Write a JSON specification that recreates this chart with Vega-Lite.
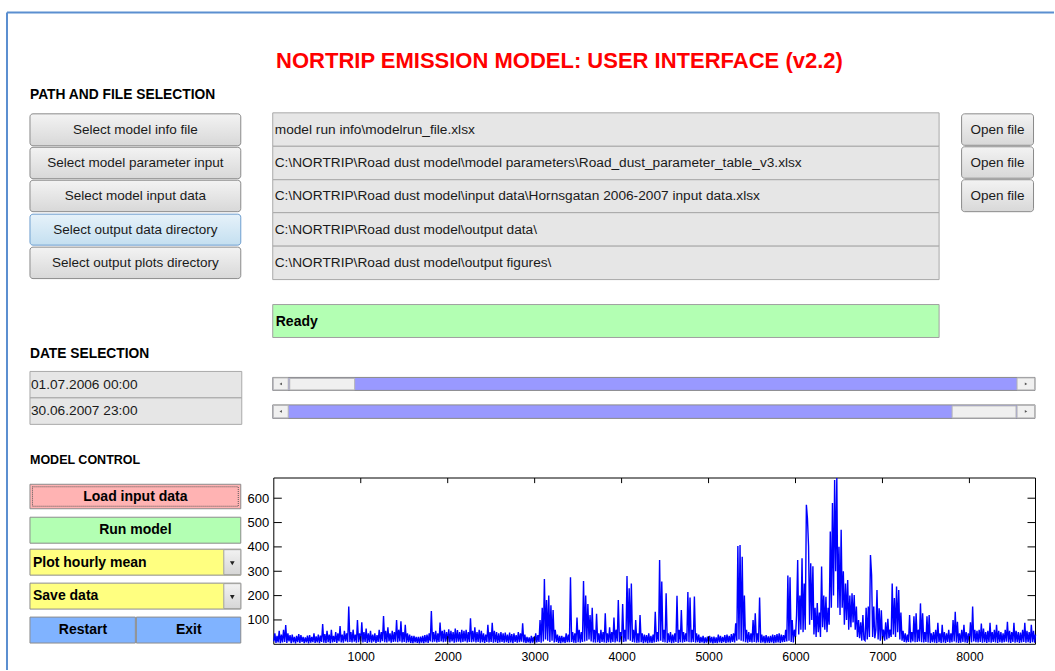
{
"$schema":"https://vega.github.io/schema/vega-lite/v6.json",
"width":1055,"height":671,"padding":0,
"autosize":{"type":"fit","contains":"padding"},
"background":"white",
"config":{"view":{"stroke":null},"text":{"font":"Liberation Sans"}},
"datasets":{
"rects":[
{"kind":"btn","x1":30,"x2":241,"y1":114,"y2":146},
{"kind":"btn","x1":30,"x2":241,"y1":147.5,"y2":179},
{"kind":"btn","x1":30,"x2":241,"y1":180.5,"y2":212},
{"kind":"btnblue","x1":30,"x2":241,"y1":214.5,"y2":245.5},
{"kind":"btn","x1":30,"x2":241,"y1":247.5,"y2":279},
{"kind":"btn","x1":962.5,"x2":1034.5,"y1":114,"y2":145.5},
{"kind":"btn","x1":962.5,"x2":1034.5,"y1":147,"y2":178.5},
{"kind":"btn","x1":962.5,"x2":1034.5,"y1":180,"y2":212},
{"kind":"field","x1":273,"x2":940,"y1":113,"y2":146.5},
{"kind":"field","x1":273,"x2":940,"y1":146.5,"y2":180},
{"kind":"field","x1":273,"x2":940,"y1":180,"y2":213},
{"kind":"field","x1":273,"x2":940,"y1":213,"y2":246.5},
{"kind":"field","x1":273,"x2":940,"y1":246.5,"y2":280},
{"kind":"ready","x1":273,"x2":940,"y1":305,"y2":338},
{"kind":"field","x1":30,"x2":242,"y1":372,"y2":398.5},
{"kind":"field","x1":30,"x2":242,"y1":398.5,"y2":425},
{"kind":"trough","x1":273,"x2":1036,"y1":378,"y2":391},
{"kind":"trough","x1":273,"x2":1036,"y1":405.5,"y2":419},
{"kind":"sbtn","x1":273.5,"x2":288.5,"y1":378.5,"y2":390.5},
{"kind":"sbtn","x1":290,"x2":355,"y1":379,"y2":390.5},
{"kind":"sbtn","x1":1018,"x2":1035.5,"y1":378.5,"y2":390.5},
{"kind":"sbtn","x1":273.5,"x2":288.5,"y1":406,"y2":418.5},
{"kind":"sbtn","x1":953,"x2":1017,"y1":406.5,"y2":418.5},
{"kind":"sbtn","x1":1018,"x2":1035.5,"y1":406,"y2":418.5},
{"kind":"load","x1":30,"x2":241,"y1":485,"y2":509.5},
{"kind":"run","x1":30,"x2":241,"y1":518,"y2":544},
{"kind":"select","x1":30,"x2":241,"y1":550,"y2":576},
{"kind":"select","x1":30,"x2":241,"y1":584,"y2":610},
{"kind":"blue","x1":30,"x2":135.5,"y1":618,"y2":644},
{"kind":"blue","x1":136.5,"x2":241,"y1":618,"y2":644},
{"kind":"selarrow","x1":224,"x2":241,"y1":550.5,"y2":575.5},
{"kind":"selarrow","x1":224,"x2":241,"y1":584.5,"y2":609.5},
{"kind":"focus","x1":32.5,"x2":238.5,"y1":487.5,"y2":507}
],
"border":[
{"x1":7,"x2":1055,"y1":12.5,"y2":12.5},
{"x1":7,"x2":7,"y1":12.5,"y2":671}
],
"glyphs":[
{"kind":"down","x":232.5,"y":564},
{"kind":"down","x":232.5,"y":598},
{"kind":"left","x":281,"y":384.5},
{"kind":"left","x":281,"y":412},
{"kind":"right","x":1027,"y":384.5},
{"kind":"right","x":1027,"y":412}
],
"texts":[
{"kind":"title","label":"NORTRIP EMISSION MODEL: USER INTERFACE (v2.2)","x":560,"y":61},
{"kind":"head","label":"PATH AND FILE SELECTION","x":30,"y":95.5},
{"kind":"head","label":"DATE SELECTION","x":30,"y":354.5},
{"kind":"head2","label":"MODEL CONTROL","x":30,"y":461},
{"kind":"btn","label":"Select model info file","x":135.5,"y":130},
{"kind":"btn","label":"Select model parameter input","x":135.5,"y":163},
{"kind":"btn","label":"Select model input data","x":135.5,"y":196.5},
{"kind":"btn","label":"Select output data directory","x":135.5,"y":230},
{"kind":"btn","label":"Select output plots directory","x":135.5,"y":263.5},
{"kind":"btn","label":"Open file","x":998.5,"y":130},
{"kind":"btn","label":"Open file","x":998.5,"y":163},
{"kind":"btn","label":"Open file","x":998.5,"y":196.5},
{"kind":"field","label":"model run info\\modelrun_file.xlsx","x":275,"y":130},
{"kind":"field","label":"C:\\NORTRIP\\Road dust model\\model parameters\\Road_dust_parameter_table_v3.xlsx","x":275,"y":163},
{"kind":"field","label":"C:\\NORTRIP\\Road dust model\\input data\\Hornsgatan 2006-2007 input data.xlsx","x":275,"y":196.5},
{"kind":"field","label":"C:\\NORTRIP\\Road dust model\\output data\\","x":275,"y":230},
{"kind":"field","label":"C:\\NORTRIP\\Road dust model\\output figures\\","x":275,"y":263.5},
{"kind":"field","label":"01.07.2006 00:00","x":31,"y":385.5},
{"kind":"field","label":"30.06.2007 23:00","x":31,"y":412},
{"kind":"ready","label":"Ready","x":276,"y":322},
{"kind":"ctl","label":"Load input data","x":135.5,"y":497.5},
{"kind":"ctl","label":"Run model","x":135.5,"y":531},
{"kind":"ctl","label":"Restart","x":83,"y":631},
{"kind":"ctl","label":"Exit","x":189,"y":631},
{"kind":"sel","label":"Plot hourly mean","x":33,"y":563.5},
{"kind":"sel","label":"Save data","x":33,"y":597}
],
"frame":[{"x0":0,"x1":8760,"y0":0,"y1":683}],
"xticks":[{"t":1000},{"t":2000},{"t":3000},{"t":4000},{"t":5000},{"t":6000},{"t":7000},{"t":8000}],
"yticks":[{"t":100},{"t":200},{"t":300},{"t":400},{"t":500},{"t":600}],
"series":[
{"h":0,"v":12},{"h":12,"v":45},{"h":25,"v":6},{"h":37,"v":35},{"h":50,"v":8},{"h":62,"v":55},{"h":75,"v":5},{"h":87,"v":40},
{"h":100,"v":8},{"h":112,"v":60},{"h":125,"v":10},{"h":137,"v":79},{"h":150,"v":6},{"h":162,"v":45},{"h":175,"v":12},{"h":187,"v":38},
{"h":200,"v":5},{"h":212,"v":40},{"h":225,"v":8},{"h":237,"v":30},{"h":250,"v":4},{"h":262,"v":35},{"h":275,"v":9},{"h":287,"v":42},
{"h":300,"v":6},{"h":312,"v":38},{"h":325,"v":10},{"h":337,"v":30},{"h":350,"v":5},{"h":362,"v":28},{"h":375,"v":8},{"h":387,"v":36},
{"h":400,"v":4},{"h":412,"v":38},{"h":425,"v":7},{"h":437,"v":30},{"h":450,"v":9},{"h":462,"v":45},{"h":475,"v":6},{"h":487,"v":33},
{"h":500,"v":8},{"h":512,"v":40},{"h":525,"v":5},{"h":537,"v":36},{"h":550,"v":10},{"h":562,"v":83},{"h":575,"v":7},{"h":587,"v":42},
{"h":600,"v":6},{"h":612,"v":55},{"h":625,"v":9},{"h":637,"v":40},{"h":650,"v":5},{"h":662,"v":60},{"h":675,"v":8},{"h":687,"v":35},
{"h":700,"v":10},{"h":712,"v":50},{"h":725,"v":6},{"h":737,"v":45},{"h":750,"v":12},{"h":762,"v":75},{"h":775,"v":8},{"h":787,"v":40},
{"h":800,"v":7},{"h":812,"v":55},{"h":825,"v":12},{"h":837,"v":45},{"h":850,"v":9},{"h":862,"v":155},{"h":875,"v":10},{"h":887,"v":50},
{"h":900,"v":8},{"h":912,"v":60},{"h":925,"v":11},{"h":937,"v":40},{"h":950,"v":7},{"h":962,"v":100},{"h":975,"v":9},{"h":987,"v":45},
{"h":1000,"v":12},{"h":1012,"v":90},{"h":1025,"v":8},{"h":1037,"v":50},{"h":1050,"v":10},{"h":1062,"v":65},{"h":1075,"v":6},{"h":1087,"v":45},
{"h":1100,"v":9},{"h":1112,"v":55},{"h":1125,"v":7},{"h":1137,"v":40},{"h":1150,"v":11},{"h":1162,"v":45},{"h":1175,"v":6},{"h":1187,"v":38},
{"h":1200,"v":10},{"h":1212,"v":60},{"h":1225,"v":8},{"h":1237,"v":50},{"h":1250,"v":13},{"h":1262,"v":116},{"h":1275,"v":9},{"h":1287,"v":55},
{"h":1300,"v":8},{"h":1312,"v":70},{"h":1325,"v":12},{"h":1337,"v":45},{"h":1350,"v":7},{"h":1362,"v":55},{"h":1375,"v":10},{"h":1387,"v":50},
{"h":1400,"v":11},{"h":1412,"v":100},{"h":1425,"v":9},{"h":1437,"v":60},{"h":1450,"v":12},{"h":1462,"v":95},{"h":1475,"v":8},{"h":1487,"v":50},
{"h":1500,"v":10},{"h":1512,"v":80},{"h":1525,"v":7},{"h":1537,"v":45},{"h":1550,"v":9},{"h":1562,"v":40},{"h":1575,"v":6},{"h":1587,"v":35},
{"h":1600,"v":5},{"h":1612,"v":35},{"h":1625,"v":8},{"h":1637,"v":30},{"h":1650,"v":6},{"h":1662,"v":30},{"h":1675,"v":4},{"h":1687,"v":32},
{"h":1700,"v":7},{"h":1712,"v":35},{"h":1725,"v":5},{"h":1737,"v":38},{"h":1750,"v":8},{"h":1762,"v":40},{"h":1775,"v":6},{"h":1787,"v":45},
{"h":1800,"v":12},{"h":1812,"v":137},{"h":1825,"v":9},{"h":1837,"v":50},{"h":1850,"v":11},{"h":1862,"v":55},{"h":1875,"v":8},{"h":1887,"v":45},
{"h":1900,"v":10},{"h":1912,"v":89},{"h":1925,"v":12},{"h":1937,"v":55},{"h":1950,"v":9},{"h":1962,"v":60},{"h":1975,"v":11},{"h":1987,"v":50},
{"h":2000,"v":10},{"h":2012,"v":62},{"h":2025,"v":8},{"h":2037,"v":55},{"h":2050,"v":12},{"h":2062,"v":50},{"h":2075,"v":7},{"h":2087,"v":65},
{"h":2100,"v":9},{"h":2112,"v":58},{"h":2125,"v":11},{"h":2137,"v":50},{"h":2150,"v":8},{"h":2162,"v":60},{"h":2175,"v":10},{"h":2187,"v":55},
{"h":2200,"v":12},{"h":2212,"v":60},{"h":2225,"v":8},{"h":2237,"v":50},{"h":2250,"v":10},{"h":2262,"v":107},{"h":2275,"v":9},{"h":2287,"v":55},
{"h":2300,"v":11},{"h":2312,"v":70},{"h":2325,"v":8},{"h":2337,"v":50},{"h":2350,"v":10},{"h":2362,"v":60},{"h":2375,"v":7},{"h":2387,"v":55},
{"h":2400,"v":9},{"h":2412,"v":45},{"h":2425,"v":6},{"h":2437,"v":40},{"h":2450,"v":10},{"h":2462,"v":80},{"h":2475,"v":8},{"h":2487,"v":50},
{"h":2500,"v":10},{"h":2512,"v":88},{"h":2525,"v":7},{"h":2537,"v":55},{"h":2550,"v":9},{"h":2562,"v":50},{"h":2575,"v":6},{"h":2587,"v":45},
{"h":2600,"v":8},{"h":2612,"v":50},{"h":2625,"v":10},{"h":2637,"v":45},{"h":2650,"v":7},{"h":2662,"v":48},{"h":2675,"v":9},{"h":2687,"v":40},
{"h":2700,"v":6},{"h":2712,"v":48},{"h":2725,"v":8},{"h":2737,"v":42},{"h":2750,"v":5},{"h":2762,"v":45},{"h":2775,"v":10},{"h":2787,"v":38},
{"h":2800,"v":7},{"h":2812,"v":50},{"h":2825,"v":9},{"h":2837,"v":45},{"h":2850,"v":11},{"h":2862,"v":86},{"h":2875,"v":8},{"h":2887,"v":40},
{"h":2900,"v":6},{"h":2912,"v":30},{"h":2925,"v":8},{"h":2937,"v":28},{"h":2950,"v":5},{"h":2962,"v":35},{"h":2975,"v":7},{"h":2987,"v":30},
{"h":3000,"v":5},{"h":3012,"v":45},{"h":3025,"v":8},{"h":3037,"v":38},{"h":3050,"v":10},{"h":3062,"v":100},{"h":3075,"v":6},{"h":3087,"v":150},
{"h":3100,"v":12},{"h":3112,"v":268},{"h":3125,"v":20},{"h":3137,"v":182},{"h":3150,"v":15},{"h":3162,"v":200},{"h":3175,"v":10},{"h":3187,"v":160},
{"h":3200,"v":15},{"h":3212,"v":141},{"h":3225,"v":8},{"h":3237,"v":60},{"h":3250,"v":10},{"h":3262,"v":40},{"h":3275,"v":6},{"h":3287,"v":35},
{"h":3300,"v":5},{"h":3312,"v":35},{"h":3325,"v":8},{"h":3337,"v":30},{"h":3350,"v":6},{"h":3362,"v":45},{"h":3375,"v":9},{"h":3387,"v":40},
{"h":3400,"v":8},{"h":3412,"v":275},{"h":3425,"v":10},{"h":3437,"v":50},{"h":3450,"v":7},{"h":3462,"v":45},{"h":3475,"v":6},{"h":3487,"v":110},
{"h":3500,"v":9},{"h":3512,"v":60},{"h":3525,"v":7},{"h":3537,"v":50},{"h":3550,"v":10},{"h":3562,"v":260},{"h":3575,"v":12},{"h":3587,"v":200},
{"h":3600,"v":15},{"h":3612,"v":165},{"h":3625,"v":20},{"h":3637,"v":120},{"h":3650,"v":12},{"h":3662,"v":150},{"h":3675,"v":8},{"h":3687,"v":60},
{"h":3700,"v":7},{"h":3712,"v":125},{"h":3725,"v":9},{"h":3737,"v":45},{"h":3750,"v":6},{"h":3762,"v":60},{"h":3775,"v":10},{"h":3787,"v":50},
{"h":3800,"v":8},{"h":3812,"v":127},{"h":3825,"v":6},{"h":3837,"v":45},{"h":3850,"v":9},{"h":3862,"v":70},{"h":3875,"v":7},{"h":3887,"v":50},
{"h":3900,"v":10},{"h":3912,"v":110},{"h":3925,"v":8},{"h":3937,"v":60},{"h":3950,"v":12},{"h":3962,"v":182},{"h":3975,"v":9},{"h":3987,"v":50},
{"h":4000,"v":8},{"h":4012,"v":165},{"h":4025,"v":10},{"h":4037,"v":60},{"h":4050,"v":12},{"h":4062,"v":280},{"h":4075,"v":20},{"h":4087,"v":230},
{"h":4100,"v":15},{"h":4112,"v":250},{"h":4125,"v":10},{"h":4137,"v":60},{"h":4150,"v":8},{"h":4162,"v":100},{"h":4175,"v":6},{"h":4187,"v":45},
{"h":4200,"v":7},{"h":4212,"v":120},{"h":4225,"v":9},{"h":4237,"v":45},{"h":4250,"v":5},{"h":4262,"v":40},{"h":4275,"v":8},{"h":4287,"v":38},
{"h":4300,"v":5},{"h":4312,"v":45},{"h":4325,"v":7},{"h":4337,"v":35},{"h":4350,"v":6},{"h":4362,"v":40},{"h":4375,"v":8},{"h":4387,"v":134},
{"h":4400,"v":10},{"h":4412,"v":50},{"h":4425,"v":12},{"h":4437,"v":346},{"h":4450,"v":15},{"h":4462,"v":258},{"h":4475,"v":10},{"h":4487,"v":60},
{"h":4500,"v":8},{"h":4512,"v":210},{"h":4525,"v":6},{"h":4537,"v":45},{"h":4550,"v":9},{"h":4562,"v":50},{"h":4575,"v":5},{"h":4587,"v":40},
{"h":4600,"v":7},{"h":4612,"v":45},{"h":4625,"v":10},{"h":4637,"v":199},{"h":4650,"v":6},{"h":4662,"v":60},{"h":4675,"v":9},{"h":4687,"v":141},
{"h":4700,"v":7},{"h":4712,"v":50},{"h":4725,"v":10},{"h":4737,"v":45},{"h":4750,"v":12},{"h":4762,"v":215},{"h":4775,"v":9},{"h":4787,"v":192},
{"h":4800,"v":8},{"h":4812,"v":60},{"h":4825,"v":10},{"h":4837,"v":196},{"h":4850,"v":7},{"h":4862,"v":45},{"h":4875,"v":9},{"h":4887,"v":40},
{"h":4900,"v":6},{"h":4912,"v":30},{"h":4925,"v":8},{"h":4937,"v":35},{"h":4950,"v":5},{"h":4962,"v":28},{"h":4975,"v":7},{"h":4987,"v":32},
{"h":5000,"v":5},{"h":5012,"v":35},{"h":5025,"v":7},{"h":5037,"v":30},{"h":5050,"v":4},{"h":5062,"v":32},{"h":5075,"v":6},{"h":5087,"v":28},
{"h":5100,"v":5},{"h":5112,"v":40},{"h":5125,"v":8},{"h":5137,"v":35},{"h":5150,"v":6},{"h":5162,"v":30},{"h":5175,"v":9},{"h":5187,"v":38},
{"h":5200,"v":6},{"h":5212,"v":40},{"h":5225,"v":8},{"h":5237,"v":35},{"h":5250,"v":7},{"h":5262,"v":42},{"h":5275,"v":10},{"h":5287,"v":45},
{"h":5300,"v":8},{"h":5312,"v":86},{"h":5325,"v":15},{"h":5337,"v":404},{"h":5350,"v":20},{"h":5362,"v":408},{"h":5375,"v":15},{"h":5387,"v":360},
{"h":5400,"v":12},{"h":5412,"v":200},{"h":5425,"v":9},{"h":5437,"v":60},{"h":5450,"v":7},{"h":5462,"v":50},{"h":5475,"v":10},{"h":5487,"v":45},
{"h":5500,"v":8},{"h":5512,"v":100},{"h":5525,"v":10},{"h":5537,"v":127},{"h":5550,"v":7},{"h":5562,"v":45},{"h":5575,"v":9},{"h":5587,"v":192},
{"h":5600,"v":6},{"h":5612,"v":40},{"h":5625,"v":8},{"h":5637,"v":35},{"h":5650,"v":5},{"h":5662,"v":38},{"h":5675,"v":7},{"h":5687,"v":33},
{"h":5700,"v":6},{"h":5712,"v":35},{"h":5725,"v":8},{"h":5737,"v":40},{"h":5750,"v":5},{"h":5762,"v":38},{"h":5775,"v":7},{"h":5787,"v":42},
{"h":5800,"v":8},{"h":5812,"v":45},{"h":5825,"v":6},{"h":5837,"v":40},{"h":5850,"v":9},{"h":5862,"v":38},{"h":5875,"v":10},{"h":5887,"v":60},
{"h":5900,"v":12},{"h":5912,"v":283},{"h":5925,"v":15},{"h":5937,"v":275},{"h":5950,"v":10},{"h":5962,"v":100},{"h":5975,"v":8},{"h":5987,"v":60},
{"h":6000,"v":30},{"h":6012,"v":120},{"h":6025,"v":346},{"h":6037,"v":40},{"h":6050,"v":200},{"h":6062,"v":60},{"h":6075,"v":353},{"h":6087,"v":50},
{"h":6100,"v":250},{"h":6112,"v":60},{"h":6125,"v":573},{"h":6137,"v":518},{"h":6150,"v":404},{"h":6162,"v":80},{"h":6175,"v":333},{"h":6187,"v":100},
{"h":6200,"v":320},{"h":6212,"v":40},{"h":6225,"v":150},{"h":6237,"v":30},{"h":6250,"v":170},{"h":6262,"v":50},{"h":6275,"v":130},{"h":6287,"v":30},
{"h":6300,"v":319},{"h":6312,"v":70},{"h":6325,"v":200},{"h":6337,"v":60},{"h":6350,"v":195},{"h":6362,"v":50},{"h":6375,"v":150},{"h":6387,"v":80},
{"h":6400,"v":463},{"h":6412,"v":150},{"h":6425,"v":580},{"h":6437,"v":200},{"h":6450,"v":675},{"h":6462,"v":300},{"h":6475,"v":683},{"h":6487,"v":150},
{"h":6500,"v":401},{"h":6512,"v":120},{"h":6525,"v":470},{"h":6537,"v":150},{"h":6550,"v":300},{"h":6562,"v":80},{"h":6575,"v":250},{"h":6587,"v":100},
{"h":6600,"v":264},{"h":6612,"v":60},{"h":6625,"v":200},{"h":6637,"v":70},{"h":6650,"v":210},{"h":6662,"v":90},{"h":6675,"v":202},{"h":6687,"v":60},
{"h":6700,"v":155},{"h":6712,"v":30},{"h":6725,"v":100},{"h":6737,"v":25},{"h":6750,"v":90},{"h":6762,"v":15},{"h":6775,"v":120},{"h":6787,"v":20},
{"h":6800,"v":15},{"h":6812,"v":150},{"h":6825,"v":20},{"h":6837,"v":155},{"h":6850,"v":30},{"h":6862,"v":367},{"h":6875,"v":285},{"h":6887,"v":30},
{"h":6900,"v":155},{"h":6912,"v":25},{"h":6925,"v":60},{"h":6937,"v":223},{"h":6950,"v":20},{"h":6962,"v":148},{"h":6975,"v":15},{"h":6987,"v":140},
{"h":7000,"v":20},{"h":7012,"v":60},{"h":7025,"v":15},{"h":7037,"v":90},{"h":7050,"v":20},{"h":7062,"v":105},{"h":7075,"v":25},{"h":7087,"v":60},
{"h":7100,"v":30},{"h":7112,"v":250},{"h":7125,"v":40},{"h":7137,"v":190},{"h":7150,"v":30},{"h":7162,"v":237},{"h":7175,"v":50},{"h":7187,"v":223},
{"h":7200,"v":20},{"h":7212,"v":130},{"h":7225,"v":15},{"h":7237,"v":55},{"h":7250,"v":10},{"h":7262,"v":45},{"h":7275,"v":8},{"h":7287,"v":40},
{"h":7300,"v":10},{"h":7312,"v":120},{"h":7325,"v":8},{"h":7337,"v":50},{"h":7350,"v":12},{"h":7362,"v":115},{"h":7375,"v":9},{"h":7387,"v":127},
{"h":7400,"v":10},{"h":7412,"v":60},{"h":7425,"v":12},{"h":7437,"v":168},{"h":7450,"v":9},{"h":7462,"v":127},{"h":7475,"v":8},{"h":7487,"v":50},
{"h":7500,"v":10},{"h":7512,"v":115},{"h":7525,"v":8},{"h":7537,"v":120},{"h":7550,"v":6},{"h":7562,"v":45},{"h":7575,"v":9},{"h":7587,"v":50},
{"h":7600,"v":7},{"h":7612,"v":60},{"h":7625,"v":5},{"h":7637,"v":88},{"h":7650,"v":9},{"h":7662,"v":45},{"h":7675,"v":6},{"h":7687,"v":80},
{"h":7700,"v":8},{"h":7712,"v":50},{"h":7725,"v":6},{"h":7737,"v":45},{"h":7750,"v":10},{"h":7762,"v":60},{"h":7775,"v":7},{"h":7787,"v":45},
{"h":7800,"v":9},{"h":7812,"v":100},{"h":7825,"v":12},{"h":7837,"v":134},{"h":7850,"v":8},{"h":7862,"v":92},{"h":7875,"v":6},{"h":7887,"v":45},
{"h":7900,"v":7},{"h":7912,"v":60},{"h":7925,"v":10},{"h":7937,"v":80},{"h":7950,"v":8},{"h":7962,"v":50},{"h":7975,"v":6},{"h":7987,"v":45},
{"h":8000,"v":10},{"h":8012,"v":90},{"h":8025,"v":8},{"h":8037,"v":155},{"h":8050,"v":12},{"h":8062,"v":60},{"h":8075,"v":9},{"h":8087,"v":55},
{"h":8100,"v":8},{"h":8112,"v":60},{"h":8125,"v":10},{"h":8137,"v":85},{"h":8150,"v":7},{"h":8162,"v":65},{"h":8175,"v":9},{"h":8187,"v":50},
{"h":8200,"v":6},{"h":8212,"v":55},{"h":8225,"v":9},{"h":8237,"v":88},{"h":8250,"v":7},{"h":8262,"v":50},{"h":8275,"v":10},{"h":8287,"v":60},
{"h":8300,"v":8},{"h":8312,"v":80},{"h":8325,"v":6},{"h":8337,"v":55},{"h":8350,"v":9},{"h":8362,"v":50},{"h":8375,"v":7},{"h":8387,"v":45},
{"h":8400,"v":9},{"h":8412,"v":60},{"h":8425,"v":11},{"h":8437,"v":92},{"h":8450,"v":8},{"h":8462,"v":55},{"h":8475,"v":6},{"h":8487,"v":50},
{"h":8500,"v":10},{"h":8512,"v":88},{"h":8525,"v":7},{"h":8537,"v":55},{"h":8550,"v":9},{"h":8562,"v":50},{"h":8575,"v":6},{"h":8587,"v":48},
{"h":8600,"v":8},{"h":8612,"v":60},{"h":8625,"v":10},{"h":8637,"v":88},{"h":8650,"v":7},{"h":8662,"v":55},{"h":8675,"v":9},{"h":8687,"v":50},
{"h":8700,"v":6},{"h":8712,"v":80},{"h":8725,"v":9},{"h":8737,"v":55},{"h":8750,"v":7},{"h":8760,"v":40}
]
},
"layer":[
{
"encoding":{
"x":{"field":"x1","type":"quantitative","scale":{"domain":[0,1055],"nice":false,"zero":false},"axis":null},
"x2":{"field":"x2"},
"y":{"field":"y1","type":"quantitative","scale":{"domain":[0,671],"reverse":true,"nice":false,"zero":false},"axis":null},
"y2":{"field":"y2"}
},
"layer":[
{"data":{"name":"border"},"mark":{"type":"rule","color":"#5b8fd0","strokeWidth":2}},
{"data":{"name":"rects"},"transform":[{"filter":"datum.kind === 'field'"}],"mark":{"type":"rect","fill":"#e6e6e6","stroke":"#a9a9a9","strokeWidth":1}},
{"data":{"name":"rects"},"transform":[{"filter":"datum.kind === 'ready'"}],"mark":{"type":"rect","fill":"#b3ffb3","stroke":"#a0a0a0","strokeWidth":1}},
{"data":{"name":"rects"},"transform":[{"filter":"datum.kind === 'btn'"}],"mark":{"type":"rect","cornerRadius":3,"stroke":"#8a8a8a","strokeWidth":1,"fill":{"gradient":"linear","x1":0,"y1":0,"x2":0,"y2":1,"stops":[{"offset":0,"color":"#f3f3f3"},{"offset":1,"color":"#d8d8d8"}]}}},
{"data":{"name":"rects"},"transform":[{"filter":"datum.kind === 'btnblue'"}],"mark":{"type":"rect","cornerRadius":3,"stroke":"#6e9ecf","strokeWidth":1,"fill":{"gradient":"linear","x1":0,"y1":0,"x2":0,"y2":1,"stops":[{"offset":0,"color":"#e6f2fa"},{"offset":1,"color":"#c4dff0"}]}}},
{"data":{"name":"rects"},"transform":[{"filter":"datum.kind === 'trough'"}],"mark":{"type":"rect","fill":"#9999ff","stroke":"#8a8a8a","strokeWidth":1}},
{"data":{"name":"rects"},"transform":[{"filter":"datum.kind === 'sbtn'"}],"mark":{"type":"rect","fill":"#f0f0f0","stroke":"#b5b5b5","strokeWidth":1}},
{"data":{"name":"rects"},"transform":[{"filter":"indexof(['load','run','select','blue'], datum.kind) >= 0"}],"mark":{"type":"rect","stroke":"#8c8c8c","strokeWidth":1},"encoding":{"fill":{"field":"kind","type":"nominal","scale":{"domain":["load","run","select","blue"],"range":["#ffb3b3","#b3ffb3","#ffff80","#80b3ff"]},"legend":null}}},
{"data":{"name":"rects"},"transform":[{"filter":"datum.kind === 'selarrow'"}],"mark":{"type":"rect","stroke":"#a0a0a0","strokeWidth":1,"fill":{"gradient":"linear","x1":0,"y1":0,"x2":0,"y2":1,"stops":[{"offset":0,"color":"#f2f2f2"},{"offset":1,"color":"#d6d6d6"}]}}},
{"data":{"name":"rects"},"transform":[{"filter":"datum.kind === 'focus'"}],"mark":{"type":"rect","fill":null,"stroke":"#555555","strokeWidth":1,"strokeDash":[1,1]}},
{"data":{"name":"glyphs"},"transform":[{"filter":"datum.kind === 'down'"}],"mark":{"type":"point","shape":"triangle-down","filled":true,"color":"#222222","size":22,"opacity":1},"encoding":{"x":{"field":"x","type":"quantitative"},"y":{"field":"y","type":"quantitative"},"x2":null,"y2":null}},
{"data":{"name":"glyphs"},"transform":[{"filter":"datum.kind === 'left'"}],"mark":{"type":"point","shape":"triangle-left","filled":true,"color":"#555555","size":8,"opacity":1},"encoding":{"x":{"field":"x","type":"quantitative"},"y":{"field":"y","type":"quantitative"},"x2":null,"y2":null}},
{"data":{"name":"glyphs"},"transform":[{"filter":"datum.kind === 'right'"}],"mark":{"type":"point","shape":"triangle-right","filled":true,"color":"#555555","size":8,"opacity":1},"encoding":{"x":{"field":"x","type":"quantitative"},"y":{"field":"y","type":"quantitative"},"x2":null,"y2":null}},
{"data":{"name":"texts"},"transform":[{"filter":"datum.kind === 'title'"}],"mark":{"type":"text","font":"Liberation Sans","fontWeight":"bold","fontSize":22,"color":"#ff0000","align":"center","baseline":"middle"},"encoding":{"x":{"field":"x","type":"quantitative"},"y":{"field":"y","type":"quantitative"},"x2":null,"y2":null,"text":{"field":"label"}}},
{"data":{"name":"texts"},"transform":[{"filter":"datum.kind === 'head'"}],"mark":{"type":"text","font":"Liberation Sans","fontWeight":"bold","fontSize":13.8,"color":"#000000","align":"left","baseline":"middle"},"encoding":{"x":{"field":"x","type":"quantitative"},"y":{"field":"y","type":"quantitative"},"x2":null,"y2":null,"text":{"field":"label"}}},
{"data":{"name":"texts"},"transform":[{"filter":"datum.kind === 'head2'"}],"mark":{"type":"text","font":"Liberation Sans","fontWeight":"bold","fontSize":12.5,"color":"#000000","align":"left","baseline":"middle"},"encoding":{"x":{"field":"x","type":"quantitative"},"y":{"field":"y","type":"quantitative"},"x2":null,"y2":null,"text":{"field":"label"}}},
{"data":{"name":"texts"},"transform":[{"filter":"datum.kind === 'btn'"}],"mark":{"type":"text","font":"Liberation Sans","fontSize":13.5,"color":"#1a1a1a","align":"center","baseline":"middle"},"encoding":{"x":{"field":"x","type":"quantitative"},"y":{"field":"y","type":"quantitative"},"x2":null,"y2":null,"text":{"field":"label"}}},
{"data":{"name":"texts"},"transform":[{"filter":"datum.kind === 'field'"}],"mark":{"type":"text","font":"Liberation Sans","fontSize":13.7,"color":"#1a1a1a","align":"left","baseline":"middle"},"encoding":{"x":{"field":"x","type":"quantitative"},"y":{"field":"y","type":"quantitative"},"x2":null,"y2":null,"text":{"field":"label"}}},
{"data":{"name":"texts"},"transform":[{"filter":"datum.kind === 'ready'"}],"mark":{"type":"text","font":"Liberation Sans","fontWeight":"bold","fontSize":14,"color":"#000000","align":"left","baseline":"middle"},"encoding":{"x":{"field":"x","type":"quantitative"},"y":{"field":"y","type":"quantitative"},"x2":null,"y2":null,"text":{"field":"label"}}},
{"data":{"name":"texts"},"transform":[{"filter":"datum.kind === 'ctl'"}],"mark":{"type":"text","font":"Liberation Sans","fontWeight":"bold","fontSize":14,"color":"#000000","align":"center","baseline":"middle"},"encoding":{"x":{"field":"x","type":"quantitative"},"y":{"field":"y","type":"quantitative"},"x2":null,"y2":null,"text":{"field":"label"}}},
{"data":{"name":"texts"},"transform":[{"filter":"datum.kind === 'sel'"}],"mark":{"type":"text","font":"Liberation Sans","fontWeight":"bold","fontSize":14,"color":"#000000","align":"left","baseline":"middle"},"encoding":{"x":{"field":"x","type":"quantitative"},"y":{"field":"y","type":"quantitative"},"x2":null,"y2":null,"text":{"field":"label"}}}
]
},
{
"layer":[
{"data":{"name":"frame"},"mark":{"type":"rect","fill":"white","stroke":"#000000","strokeWidth":1},"encoding":{"x":{"field":"x0","type":"quantitative"},"x2":{"field":"x1"},"y":{"field":"y0","type":"quantitative"},"y2":{"field":"y1"}}},
{"data":{"name":"series"},"mark":{"type":"line","color":"#0000ff","strokeWidth":1.4,"clip":true},
"encoding":{
"x":{"field":"h","type":"quantitative","scale":{"domain":[0,8760],"range":[273.8,1035.5],"nice":false,"zero":false},"axis":{"orient":"bottom","offset":-27,"values":[1000,2000,3000,4000,5000,6000,7000,8000],"format":"d","ticks":false,"tickSize":0,"domain":false,"grid":false,"labelPadding":7,"labelFont":"Liberation Sans","labelFontSize":12.3,"labelColor":"#000000","labelFlush":false,"labelOverlap":false,"title":null}},
"y":{"field":"v","type":"quantitative","scale":{"domain":[0,683],"range":[644.3,478],"nice":false,"zero":false},"axis":{"orient":"left","offset":-273.8,"values":[100,200,300,400,500,600],"format":"d","ticks":false,"tickSize":0,"domain":false,"grid":false,"labelPadding":5,"labelFont":"Liberation Sans","labelFontSize":13,"labelColor":"#000000","labelFlush":false,"labelOverlap":false,"title":null}}
}},
{"data":{"name":"xticks"},"mark":{"type":"rule","color":"#000000","strokeWidth":1},"encoding":{"x":{"field":"t","type":"quantitative"},"y":{"datum":0,"type":"quantitative"},"y2":{"datum":33}}},
{"data":{"name":"xticks"},"mark":{"type":"rule","color":"#000000","strokeWidth":1},"encoding":{"x":{"field":"t","type":"quantitative"},"y":{"datum":683,"type":"quantitative"},"y2":{"datum":662}}},
{"data":{"name":"yticks"},"mark":{"type":"rule","color":"#000000","strokeWidth":1},"encoding":{"y":{"field":"t","type":"quantitative"},"x":{"datum":0,"type":"quantitative"},"x2":{"datum":92}}},
{"data":{"name":"yticks"},"mark":{"type":"rule","color":"#000000","strokeWidth":1},"encoding":{"y":{"field":"t","type":"quantitative"},"x":{"datum":8668,"type":"quantitative"},"x2":{"datum":8760}}}
]
}
],
"resolve":{"scale":{"x":"independent","y":"independent","fill":"independent"},"axis":{"x":"independent","y":"independent"}}
}
